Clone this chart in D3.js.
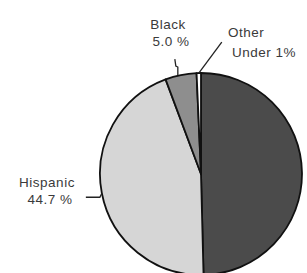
<!DOCTYPE html>
<html lang="en">
    <head>
        <meta charset="utf-8">
        <title>Pie chart</title>
        <script src="https://d3js.org/d3.v7.min.js"></script>
        <style type="text/css">
            body { margin: 0; background: #fff; }
            text { font-family: "Liberation Sans", Arial, sans-serif; font-size: 13.5px; fill: #3a3a3a; letter-spacing: 0.5px; }
        </style>
    </head>
    <body>
        <svg id="pie" width="307" height="273"></svg>
        <script>
            //Slices, clockwise from the top
            var categories = ['White', 'Hispanic', 'Black', 'Other'];
            var values = [49.6, 44.7, 5.0, 0.7];
            var fills = ['#4b4b4b', '#d6d6d6', '#8e8e8e', '#ffffff'];

            //Label text (first line, second line)
            var labelTop = ['', 'Hispanic', 'Black', 'Other'];
            var labelBottom = ['', '44.7 %', '5.0 %', 'Under 1%'];

            var svg = d3.select('#pie');
            var cx = 201, cy = 174, r = 101;

            var pie = d3.pie().sort(null).value(function(d) { return d; });
            var arc = d3.arc().innerRadius(0).outerRadius(r);
            var arcs = pie(values);

            var g = svg.append('g').attr('transform', 'translate(' + cx + ',' + cy + ')');

            g.selectAll('path')
                .data(arcs)
                .enter()
                .append('path')
                .attr('d', arc)
                .attr('fill', function(d, i) { return fills[i]; })
                .attr('stroke', '#111')
                .attr('stroke-width', 1.8)
                .attr('stroke-linejoin', 'round');

            //Leader lines, offsets from the slice's outer edge
            var labelArc = d3.arc().innerRadius(r).outerRadius(r);
            function edge(i) { return labelArc.centroid(arcs[i]); }

            var leaders = [
                null,
                [[0, 0], [-2, 4], [-16, 4]],
                [[-3, 0], [-3, -8], [-5, -9], [-6, -16]],
                [[0, 0], [23, -31]]
            ];

            var line = d3.line();
            leaders.forEach(function(pts, i) {
                if (!pts) return;
                var e = edge(i);
                g.append('path')
                    .attr('d', line(pts.map(function(p) { return [e[0] + p[0], e[1] + p[1]]; })))
                    .attr('fill', 'none')
                    .attr('stroke', '#222')
                    .attr('stroke-width', 1.3);
            });

            //Label positions (text anchor x, first baseline y)
            var labelPos = [null, [47, 187], [168, 29], [250, 37]];
            labelPos.forEach(function(p, i) {
                if (!p) return;
                var t = svg.append('text')
                    .attr('x', p[0]).attr('y', p[1])
                    .attr('text-anchor', 'middle');
                t.append('tspan').attr('x', i == 3 ? 228 : p[0]).attr('text-anchor', i == 3 ? 'start' : 'middle').text(labelTop[i]);
                t.append('tspan').attr('x', i == 3 ? 232 : p[0] + 3).attr('dy', i == 3 ? 20 : 17).attr('text-anchor', i == 3 ? 'start' : 'middle').text(labelBottom[i]);
            });
        </script>
    </body>
</html>
